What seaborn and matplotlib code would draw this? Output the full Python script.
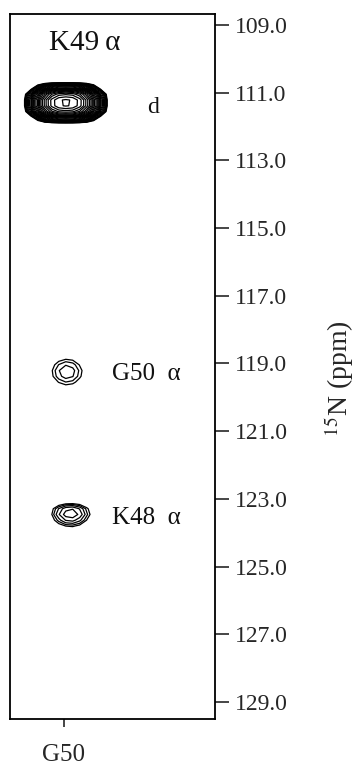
import numpy as np
import matplotlib
matplotlib.use("Agg")
import matplotlib.pyplot as plt
import seaborn as sns

# Strip of the 15N dimension for residue G50
strip_label = "G50"
strip_pos = 0.263
n_ticks = [109.0, 111.0, 113.0, 115.0, 117.0, 119.0, 121.0, 123.0, 125.0, 127.0, 129.0]

# Cross peaks: strip position, 15N shift (ppm), intensity, widths, lineshape exponents
peak_names = ["K49", "G50", "K48"]
peak_x = [0.273, 0.278, 0.296]
peak_n = [111.3, 119.25, 123.4]
peak_amp = [100.0, 2.6, 3.6]
peak_wx = [0.082, 0.052, 0.058]
peak_wn_up = [0.26, 0.27, 0.16]
peak_wn_down = [0.26, 0.27, 0.26]
peak_shape_x = [2.5, 2.0, 2.0]
peak_shape_n = [2.8, 2.0, 2.0]
peak_step = [1.2, 1.4, 1.3]

# Annotations placed beside the peaks
label_text = ["K49\u2009α", "d", "G50  α", "K48  α"]
label_x = [0.19, 0.67, 0.50, 0.50]
label_n = [109.55, 111.45, 119.3, 123.55]
label_size = [21, 17, 18, 18]

sns.set_style("white")
plt.rcParams["font.family"] = ["Liberation Serif", "DejaVu Serif"]
plt.rcParams["mathtext.fontset"] = "stix"

fig = plt.figure(figsize=(3.55, 7.65), dpi=100)
ax = fig.add_axes([10 / 355, 1 - 719 / 765, 205 / 355, 705 / 765])

# coarse digitisation grid, as in the processed spectrum
xs = np.arange(0.0, 1.0001, 0.034)
ns = np.arange(108.5, 129.7, 0.17)
X, N = np.meshgrid(xs, ns)
base = 1.0
for x0, n0, a, wx, wu, wd, px, pn, st in zip(peak_x, peak_n, peak_amp, peak_wx, peak_wn_up,
                                             peak_wn_down, peak_shape_x, peak_shape_n, peak_step):
    dn = N - n0
    wn = np.where(dn < 0, wu, wd)
    Z = a * np.exp(-0.5 * np.abs((X - x0) / wx) ** px - 0.5 * np.abs(dn / wn) ** pn)
    nlev = int(np.log(a / base) / np.log(st)) + 1
    levels = base * st ** np.arange(nlev)
    ax.contour(X, N, Z, levels=levels, colors="black", linewidths=0.9)

for t, x, n, s in zip(label_text, label_x, label_n, label_size):
    ax.text(x, n, t, fontsize=s, ha="left", va="center", color="#111111")

ax.set_xlim(0, 1)
ax.set_ylim(129.5, 108.68)
ax.set_xticks([strip_pos])
ax.set_xticklabels([strip_label], fontsize=18)
ax.yaxis.tick_right()
ax.yaxis.set_label_position("right")
ax.set_yticks(n_ticks)
ax.set_yticklabels([f"{v:.1f}" for v in n_ticks], fontsize=17)
ax.tick_params(axis="y", direction="out", length=10, width=1.2, pad=4, right=True, left=False)
ax.tick_params(axis="x", direction="out", length=6, width=1.2, pad=12, bottom=True)
ax.set_ylabel(r"$^{15}$N (ppm)", fontsize=20)
ax.yaxis.set_label_coords(1.525, 0.482)
for sp in ax.spines.values():
    sp.set_visible(True)
    sp.set_linewidth(1.3)
    sp.set_color("black")

fig.savefig("out.png", dpi=100)
